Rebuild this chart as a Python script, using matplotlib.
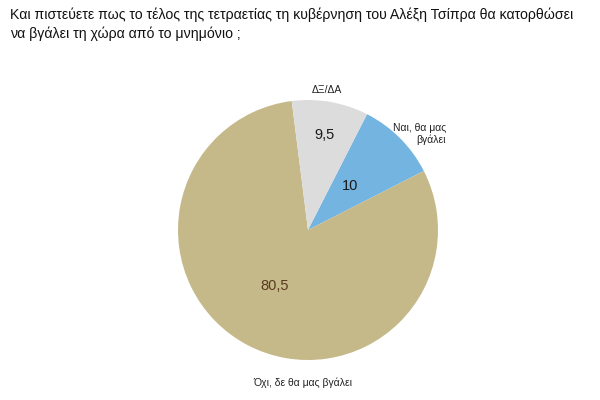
import numpy as np
import matplotlib.pyplot as plt

# ===== Data =====
title = ("Και πιστεύετε πως το τέλος της τετραετίας τη κυβέρνηση του Αλέξη Τσίπρα θα κατορθώσει\n"
         "να βγάλει τη χώρα από το μνημόνιο ;")
labels = ['Ναι, θα μας\nβγάλει', 'Όχι, δε θα μας βγάλει', 'ΔΞ/ΔΑ']
values = [10, 80.5, 9.5]
value_text = ['10', '80,5', '9,5']
colors = ['#74B4E0', '#C5B98A', '#DCDCDC']

plt.rcParams['font.family'] = ['Liberation Sans', 'DejaVu Sans']

fig = plt.figure(figsize=(6, 4), dpi=100)
ax = fig.add_axes([0, 0, 1, 1])

# pie centre and radius in pixel units (y measured from bottom)
cx, cy, r = 308, 170, 130
wedges, _ = ax.pie(values, colors=colors, startangle=63, counterclock=False,
                   center=(cx, cy), radius=r, frame=True)
ax.set_xlim(0, 600)
ax.set_ylim(0, 400)
ax.set_aspect('equal')
ax.axis('off')

# value labels inside slices (fraction of radius, angle in degrees)
inner = [(0.47, 46), (0.5, 239.5), (0.74, 80)]
val_colors = ['#1a1a1a', '#5a3a1e', '#1a1a1a']
for txt, (d, a), c in zip(value_text, inner, val_colors):
    t = np.deg2rad(a)
    ax.text(cx + d * r * np.cos(t), cy + d * r * np.sin(t), txt,
            ha='center', va='center', fontsize=10.5, color=c)

# category labels outside the pie
ax.text(446, 266, labels[0], ha='right', va='center', fontsize=7.5,
        color='#222222', linespacing=1.1)
ax.text(303, 17, labels[1], ha='center', va='center', fontsize=7.5, color='#222222')
ax.text(327, 310, labels[2], ha='center', va='center', fontsize=7.5, color='#222222')

fig.text(10 / 600, 1 - 8 / 400, title, ha='left', va='top', fontsize=10.2,
         color='#111111', linespacing=1.35)

plt.savefig('out.png', dpi=100)
